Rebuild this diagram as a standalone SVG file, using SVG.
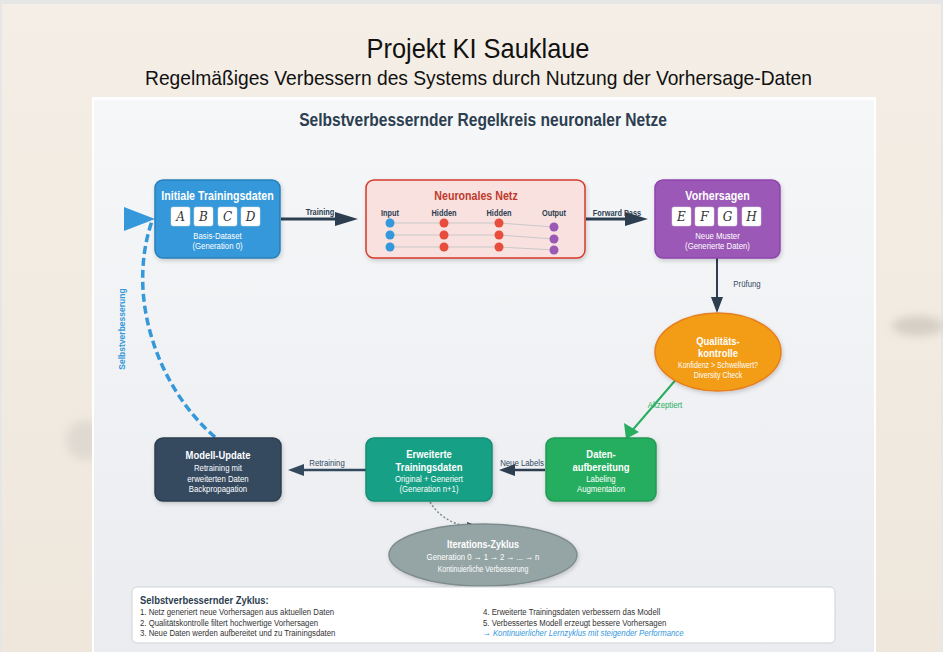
<svg xmlns="http://www.w3.org/2000/svg" width="943" height="652" viewBox="0 0 943 652">
<defs>
<linearGradient id="slide" x1="0" y1="0" x2="0" y2="1"><stop offset="0" stop-color="#f4eee6"/><stop offset="1" stop-color="#efe7dc"/></linearGradient>
<linearGradient id="panel" x1="0" y1="0" x2="0" y2="1"><stop offset="0" stop-color="#f6f7f9"/><stop offset="1" stop-color="#eaecef"/></linearGradient>
<filter id="sh" x="-10%" y="-10%" width="130%" height="140%"><feDropShadow dx="1" dy="2" stdDeviation="2" flood-color="#000" flood-opacity="0.18"/></filter>
<filter id="blur" x="-50%" y="-50%" width="200%" height="200%"><feGaussianBlur stdDeviation="4"/></filter>
<style>
.t{font-family:"Liberation Sans",Arial,sans-serif}
.ttl{font-family:"Liberation Sans",Arial,sans-serif;fill:#111}
.w{fill:#fff}
.b{font-weight:bold}
.c{text-anchor:middle}
.h{font-size:13px;font-weight:bold}
.s{font-size:9.5px}
.lab{font-size:9.5px;fill:#34495e}
.lbl{font-size:9px;font-weight:bold;fill:#2c3e50}
.box{fill:#fff;stroke:#ddd;stroke-width:0.5}
.let{font-family:"DejaVu Serif","Liberation Serif",serif;font-style:italic;font-size:12px;fill:#333;text-anchor:middle}
.nl{stroke:#c9c9c9;stroke-width:1;fill:none}
.leg{font-size:9.5px;fill:#333}
.legb{font-size:9.5px;fill:#3498db;font-style:italic}
</style>
</defs>
<!-- slide background -->
<rect x="0" y="0" width="943" height="652" fill="#e6e6e6"/>
<rect x="2" y="4" width="939" height="648" fill="url(#slide)"/>
<ellipse cx="86" cy="440" rx="20" ry="20" fill="#d2cdc6" opacity="0.55" filter="url(#blur)"/>
<ellipse cx="918" cy="326" rx="26" ry="10" fill="#b3ada5" opacity="0.45" filter="url(#blur)"/>
<text class="ttl c" x="478" y="58" font-size="28" textLength="223" lengthAdjust="spacingAndGlyphs">Projekt KI Sauklaue</text>
<text class="ttl c" x="478.5" y="85" font-size="21" textLength="667" lengthAdjust="spacingAndGlyphs">Regelmäßiges Verbessern des Systems durch Nutzung der Vorhersage-Daten</text>
<!-- panel -->
<rect x="92" y="97" width="784" height="555" fill="#fff"/>
<rect x="94" y="100" width="780" height="552" fill="url(#panel)"/>
<text class="t c b" x="483" y="126" font-size="19" fill="#2c3e50" transform="matrix(.82 0 0 1 86.94 0)">Selbstverbessernder Regelkreis neuronaler Netze</text>

<!-- connectors -->
<g id="connectors">
  <line x1="281" y1="219" x2="337" y2="219" stroke="#2c3e50" stroke-width="3"/>
  <polygon points="335,212 358,219 335,226" fill="#2c3e50"/>
  <text class="t lbl c" x="320" y="215" transform="matrix(.82 0 0 1 57.6 0)">Training</text>
  <line x1="586" y1="219" x2="627" y2="219" stroke="#2c3e50" stroke-width="3"/>
  <polygon points="625,212 648,219 625,226" fill="#2c3e50"/>
  <text class="t lbl c" x="617" y="216" transform="matrix(.82 0 0 1 111.06 0)">Forward Pass</text>
  <line x1="717" y1="258" x2="717" y2="298" stroke="#2c3e50" stroke-width="2"/>
  <polygon points="711,297 717,313 723,297" fill="#2c3e50"/>
  <text class="t lab c" x="747" y="287" transform="matrix(.82 0 0 1 134.46 0)">Prüfung</text>
  <line x1="679" y1="376" x2="630" y2="433" stroke="#27ae60" stroke-width="2"/>
  <polygon points="624,423 626,439 639,432" fill="#27ae60"/>
  <text class="t c" x="665" y="408" font-size="9.5" fill="#27ae60" transform="matrix(.82 0 0 1 119.7 0)">Akzeptiert</text>
  <line x1="545" y1="470" x2="513" y2="470" stroke="#2c3e50" stroke-width="2.5"/>
  <polygon points="515,464 499,470 515,476" fill="#2c3e50"/>
  <text class="t lab c" x="522" y="466" transform="matrix(.82 0 0 1 93.96 0)">Neue Labels</text>
  <line x1="366" y1="470" x2="302" y2="470" stroke="#34495e" stroke-width="2.5"/>
  <polygon points="304,464 288,470 304,476" fill="#34495e"/>
  <text class="t lab c" x="327" y="466" transform="matrix(.82 0 0 1 58.86 0)">Retraining</text>
  <path d="M215 437 C160 390 125 300 152 221" fill="none" stroke="#3498db" stroke-width="3.5" stroke-dasharray="8,4"/>
  <polygon points="124,207 155,219 124,231" fill="#3498db"/>
  <text class="t c b" x="125" y="329" font-size="8.5" fill="#3498db" transform="rotate(-90 125 329)">Selbstverbesserung</text>
  <path d="M430 502 Q442 522 469 527" fill="none" stroke="#7f8c8d" stroke-width="1.5" stroke-dasharray="2,2"/>
  <polygon points="467,522 484,528 468,534" fill="#2c3e50"/>
</g>

<!-- nodes -->
<g id="initiale">
  <rect x="155" y="180" width="125" height="78" rx="8" fill="#3498db" stroke="#2980b9" stroke-width="1.5" filter="url(#sh)"/>
  <rect class="box" x="171" y="207" width="19" height="19" rx="2"/>
  <rect class="box" x="194" y="207" width="19" height="19" rx="2"/>
  <rect class="box" x="218" y="207" width="19" height="19" rx="2"/>
  <rect class="box" x="241" y="207" width="19" height="19" rx="2"/>
  <text class="let" x="180.5" y="221">A</text>
  <text class="let" x="203.5" y="221">B</text>
  <text class="let" x="227.5" y="221">C</text>
  <text class="let" x="250.5" y="221">D</text>
  <g transform="matrix(.82 0 0 1 39.15 0)">
    <text class="t w h c" x="217.5" y="200.5">Initiale Trainingsdaten</text>
    <text class="t w s c" x="217.5" y="239.5">Basis-Dataset</text>
    <text class="t w s c" x="217.5" y="249.5">(Generation 0)</text>
  </g>
</g>

<g id="netz">
  <rect x="366" y="180" width="219" height="78" rx="8" fill="#f8e1df" stroke="#d5392c" stroke-width="1.5" filter="url(#sh)"/>
  <text class="t h c" x="476" y="200.5" fill="#c0392b" transform="matrix(.82 0 0 1 85.68 0)">Neuronales Netz</text>
  <text class="t lbl c" x="390" y="216" transform="matrix(.82 0 0 1 70.2 0)">Input</text>
  <text class="t lbl c" x="444" y="216" transform="matrix(.82 0 0 1 79.92 0)">Hidden</text>
  <text class="t lbl c" x="499" y="216" transform="matrix(.82 0 0 1 89.82 0)">Hidden</text>
  <text class="t lbl c" x="554" y="216" transform="matrix(.82 0 0 1 99.72 0)">Output</text>
  <path class="nl" d="M390 223 H499 L554 227 M390 235 H499 L554 239 M390 247 H499 L554 250"/>
  <g fill="#3498db"><circle cx="390" cy="223" r="4.5"/><circle cx="390" cy="235" r="4.5"/><circle cx="390" cy="247" r="4.5"/></g>
  <g fill="#e74c3c"><circle cx="444" cy="223" r="4.5"/><circle cx="444" cy="235" r="4.5"/><circle cx="444" cy="247" r="4.5"/>
  <circle cx="499" cy="223" r="4.5"/><circle cx="499" cy="235" r="4.5"/><circle cx="499" cy="247" r="4.5"/></g>
  <g fill="#9b59b6"><circle cx="554" cy="227" r="4.5"/><circle cx="554" cy="239" r="4.5"/><circle cx="554" cy="250" r="4.5"/></g>
</g>

<g id="vorhersagen">
  <rect x="655" y="180" width="125" height="78" rx="8" fill="#9b59b6" stroke="#8e44ad" stroke-width="1.5" filter="url(#sh)"/>
  <rect class="box" x="672" y="207" width="19" height="19" rx="2"/>
  <rect class="box" x="695" y="207" width="19" height="19" rx="2"/>
  <rect class="box" x="718" y="207" width="19" height="19" rx="2"/>
  <rect class="box" x="742" y="207" width="19" height="19" rx="2"/>
  <text class="let" x="681.5" y="221">E</text>
  <text class="let" x="704.5" y="221">F</text>
  <text class="let" x="727.5" y="221">G</text>
  <text class="let" x="751.5" y="221">H</text>
  <g transform="matrix(.82 0 0 1 129.15 0)">
    <text class="t w h c" x="717.5" y="200.5">Vorhersagen</text>
    <text class="t w s c" x="717.5" y="239.5">Neue Muster</text>
    <text class="t w s c" x="717.5" y="249.5">(Generierte Daten)</text>
  </g>
</g>

<g id="qualitaet">
  <ellipse cx="718" cy="352" rx="63" ry="39" fill="#f39c12" stroke="#e67e22" stroke-width="1.5" filter="url(#sh)"/>
  <g transform="matrix(.82 0 0 1 129.24 0)">
    <text class="t w c b" x="718" y="345" font-size="11.5">Qualitäts-</text>
    <text class="t w c b" x="718" y="357.5" font-size="11.5">kontrolle</text>
    <text class="t w c" x="718" y="368.5" font-size="8.5">Konfidenz &gt; Schwellwert?</text>
    <text class="t w c" x="718" y="378.5" font-size="8.5">Diversity Check</text>
  </g>
</g>

<g id="aufbereitung">
  <rect x="546" y="438" width="110" height="63" rx="8" fill="#27ae60" stroke="#229954" stroke-width="1.5" filter="url(#sh)"/>
  <g transform="matrix(.82 0 0 1 108.18 0)">
    <text class="t w c b" x="601" y="458" font-size="11.5">Daten-</text>
    <text class="t w c b" x="601" y="471" font-size="11.5">aufbereitung</text>
    <text class="t w s c" x="601" y="482.5">Labeling</text>
    <text class="t w s c" x="601" y="492.5">Augmentation</text>
  </g>
</g>

<g id="erweitert">
  <rect x="366" y="438" width="126" height="63" rx="8" fill="#16a085" stroke="#138d75" stroke-width="1.5" filter="url(#sh)"/>
  <g transform="matrix(.82 0 0 1 77.22 0)">
    <text class="t w c b" x="429" y="458" font-size="11.5">Erweiterte</text>
    <text class="t w c b" x="429" y="471" font-size="11.5">Trainingsdaten</text>
    <text class="t w s c" x="429" y="482.5">Original + Generiert</text>
    <text class="t w s c" x="429" y="492.5">(Generation n+1)</text>
  </g>
</g>

<g id="modell">
  <rect x="155" y="438" width="126" height="63" rx="8" fill="#34495e" stroke="#2c3e50" stroke-width="1.5" filter="url(#sh)"/>
  <g transform="matrix(.82 0 0 1 39.24 0)">
    <text class="t w c b" x="218" y="459" font-size="11.5">Modell-Update</text>
    <text class="t w s c" x="218" y="471">Retraining mit</text>
    <text class="t w s c" x="218" y="482.5">erweiterten Daten</text>
    <text class="t w s c" x="218" y="492.5">Backpropagation</text>
  </g>
</g>

<g id="iteration">
  <ellipse cx="483" cy="555" rx="94" ry="31" fill="#95a5a6" stroke="#7f8c8d" stroke-width="1.5" filter="url(#sh)"/>
  <g transform="matrix(.82 0 0 1 86.94 0)">
    <text class="t w c b" x="483" y="548.5" font-size="11">Iterations-Zyklus</text>
    <text class="t w c" x="483" y="560.5" font-size="9.5">Generation 0 → 1 → 2 → ... → n</text>
    <text class="t w c" x="483" y="572.5" font-size="8.5">Kontinuierliche Verbesserung</text>
  </g>
</g>

<g id="legende">
  <rect x="132" y="587" width="703" height="56" rx="5" fill="#fff" stroke="#cfd3d6" stroke-width="1"/>
  <g transform="matrix(.82 0 0 1 25.2 0)">
    <text class="t b" x="140" y="604" font-size="11.5" fill="#2c3e50">Selbstverbessernder Zyklus:</text>
    <text class="t leg" x="140" y="615.5">1. Netz generiert neue Vorhersagen aus aktuellen Daten</text>
    <text class="t leg" x="140" y="626">2. Qualitätskontrolle filtert hochwertige Vorhersagen</text>
    <text class="t leg" x="140" y="636.5">3. Neue Daten werden aufbereitet und zu Trainingsdaten</text>
  </g>
  <g transform="matrix(.82 0 0 1 86.94 0)">
    <text class="t leg" x="483" y="615.5">4. Erweiterte Trainingsdaten verbessern das Modell</text>
    <text class="t leg" x="483" y="626">5. Verbessertes Modell erzeugt bessere Vorhersagen</text>
    <text class="t legb" x="483" y="636.5">→ Kontinuierlicher Lernzyklus mit steigender Performance</text>
  </g>
</g>
</svg>
